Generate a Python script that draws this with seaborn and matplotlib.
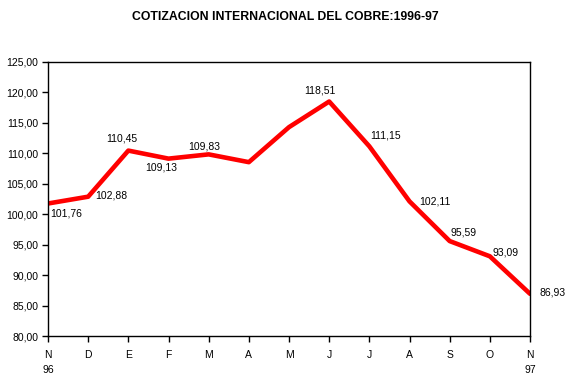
import matplotlib
matplotlib.use("Agg")
import matplotlib.pyplot as plt
import seaborn as sns
import pandas as pd

months = ["N", "D", "E", "F", "M", "A", "M", "J", "J", "A", "S", "O", "N"]
year_labels = ["96", "", "", "", "", "", "", "", "", "", "", "", "97"]
prices = [101.76, 102.88, 110.45, 109.13, 109.83, 108.55, 114.3, 118.51, 111.15, 102.11, 95.59, 93.09, 86.93]
shown = [True, True, True, True, True, False, False, True, True, True, True, True, True]
yticks = [80, 85, 90, 95, 100, 105, 110, 115, 120, 125]

sns.set_style("white")
plt.rcParams['font.family'] = ['Liberation Sans', 'DejaVu Sans']
plt.rcParams['text.color'] = 'black'
plt.rcParams['xtick.color'] = 'black'
plt.rcParams['ytick.color'] = 'black'
plt.rcParams['axes.labelcolor'] = 'black'

df = pd.DataFrame({"i": range(len(prices)), "price": prices})

fig = plt.figure(figsize=(5.78, 3.81), dpi=100)
ax = fig.add_axes([48/578, 1-336/381, (530-48)/578, (336-62)/381])
sns.lineplot(data=df, x="i", y="price", ax=ax, color="#ff0000", linewidth=3.3)

ax.set_xlim(0, len(prices)-1)
ax.set_ylim(80, 125)
ax.set_yticks(yticks)
ax.set_yticklabels([f"{v:.2f}".replace(".", ",") for v in yticks], fontsize=7.5)
ax.set_xticks(range(len(months)))
ax.set_xticklabels([m + ("\n" + y if y else "") for m, y in zip(months, year_labels)],
                   fontsize=7.5, linespacing=1.6, va="top")
ax.tick_params(axis="both", direction="out", length=4, width=1, color="black",
               bottom=True, left=True, labelcolor="black")
ax.tick_params(axis="x", pad=6)
ax.tick_params(axis="y", pad=3)
ax.set_xlabel("")
ax.set_ylabel("")
for s in ax.spines.values():
    s.set_color("black")
    s.set_linewidth(1)

offsets = [(13, -7), (16.5, 1), (-5, 8.5), (-5, -6.5), (-3, 6), (0, 0), (0, 0),
           (-7, 8), (11.5, 8), (18, 0), (10, 6), (11.5, 3), (16.5, 1)]
for i, (p, s, o) in enumerate(zip(prices, shown, offsets)):
    if not s:
        continue
    ax.annotate(f"{p:.2f}".replace(".", ","), (i, p), xytext=o, textcoords="offset points",
                ha="center", va="center", fontsize=7.5, color="black", annotation_clip=False)

fig.text(285/578, 1-17/381, "COTIZACION INTERNACIONAL DEL COBRE:1996-97",
         ha="center", va="center", fontsize=8.8, fontweight="bold", color="black")

fig.savefig("out.png", dpi=100)
